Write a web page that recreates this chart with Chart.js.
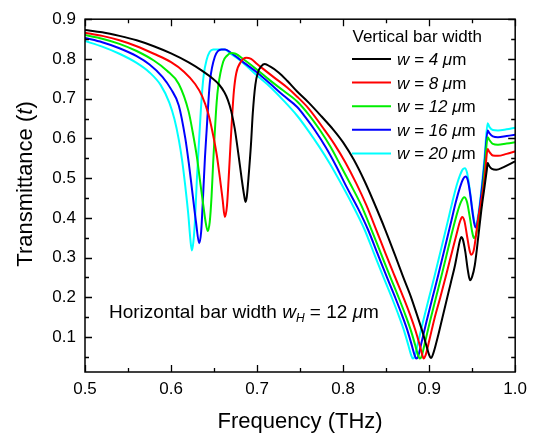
<!DOCTYPE html>
<html>
<head>
<meta charset="utf-8">
<script src="https://cdn.jsdelivr.net/npm/chart.js@4/dist/chart.umd.min.js"></script>
<style>
  html, body { margin: 0; padding: 0; background: #fff; }
  #wrap { width: 534px; height: 437px; }
</style>
</head>
<body>
<div id="wrap"><canvas id="c" width="534" height="437"></canvas></div>
<script>
// Vertical bar widths (µm) and their line colours
const barWidths = [4, 8, 12, 16, 20];
const seriesColors = ['#000000', '#ff0000', '#00ee00', '#0000ff', '#00ffff'];

// Axis ticks
const xTicks = [0.5, 0.6, 0.7, 0.8, 0.9, 1.0];
const xMinorTicks = [0.55, 0.65, 0.75, 0.85, 0.95];
const yTicks = [0.1, 0.2, 0.3, 0.4, 0.5, 0.6, 0.7, 0.8, 0.9];
const yMinorTicks = [0.05, 0.15, 0.25, 0.35, 0.45, 0.55, 0.65, 0.75, 0.85];

// Transmittance spectra: [frequency (THz), transmittance]
const w4 = [
  [0.500,0.873],[0.520,0.867],[0.540,0.858],[0.560,0.847],[0.580,0.832],[0.600,0.814],
  [0.620,0.792],[0.635,0.772],[0.647,0.753],[0.656,0.735],[0.662,0.716],[0.666,0.697],
  [0.670,0.668],[0.674,0.625],[0.678,0.565],[0.682,0.500],[0.685,0.456],[0.6865,0.440],
  [0.688,0.452],[0.690,0.500],[0.693,0.588],[0.695,0.663],[0.698,0.735],[0.701,0.766],
  [0.705,0.782],[0.709,0.787],[0.715,0.781],[0.725,0.766],[0.735,0.745],[0.7466,0.718],
  [0.760,0.690],[0.775,0.655],[0.789,0.621],[0.800,0.590],[0.8125,0.546],[0.825,0.492],
  [0.835,0.443],[0.849,0.370],[0.860,0.308],[0.870,0.250],[0.879,0.200],[0.886,0.155],
  [0.892,0.115],[0.897,0.077],[0.900,0.055],[0.902,0.047],[0.905,0.060],[0.910,0.100],
  [0.915,0.145],[0.920,0.190],[0.925,0.235],[0.930,0.280],[0.934,0.325],[0.936,0.345],
  [0.9375,0.352],[0.939,0.347],[0.942,0.315],[0.945,0.268],[0.9475,0.243],[0.950,0.252],
  [0.953,0.280],[0.957,0.350],[0.9607,0.420],[0.9645,0.480],[0.967,0.520],[0.968,0.538],
  [0.970,0.530],[0.973,0.523],[0.978,0.521],[0.986,0.527],[1.000,0.542]
];
const w8 = [
  [0.500,0.866],[0.520,0.858],[0.540,0.847],[0.560,0.832],[0.580,0.813],[0.600,0.792],
  [0.615,0.768],[0.628,0.737],[0.636,0.707],[0.6433,0.662],[0.648,0.618],[0.653,0.560],
  [0.657,0.497],[0.660,0.445],[0.6625,0.402],[0.665,0.430],[0.667,0.500],[0.669,0.580],
  [0.671,0.655],[0.673,0.718],[0.6758,0.764],[0.6816,0.794],[0.6873,0.803],[0.693,0.800],
  [0.700,0.787],[0.710,0.770],[0.720,0.753],[0.735,0.728],[0.7466,0.705],[0.760,0.675],
  [0.7785,0.621],[0.790,0.585],[0.8025,0.540],[0.815,0.488],[0.827,0.432],[0.8385,0.370],
  [0.849,0.312],[0.860,0.253],[0.870,0.200],[0.878,0.155],[0.884,0.117],[0.889,0.080],
  [0.892,0.055],[0.8935,0.046],[0.896,0.055],[0.900,0.090],[0.906,0.145],[0.913,0.200],
  [0.920,0.258],[0.927,0.318],[0.932,0.360],[0.936,0.392],[0.9384,0.402],[0.941,0.392],
  [0.944,0.355],[0.947,0.318],[0.949,0.307],[0.952,0.320],[0.9568,0.395],[0.9644,0.496],
  [0.968,0.573],[0.970,0.566],[0.974,0.557],[0.980,0.556],[0.990,0.561],[1.000,0.567]
];
const w12 = [
  [0.500,0.860],[0.520,0.851],[0.540,0.838],[0.560,0.820],[0.580,0.796],[0.595,0.771],
  [0.609,0.737],[0.6204,0.668],[0.625,0.618],[0.630,0.554],[0.6345,0.480],[0.6376,0.430],
  [0.640,0.392],[0.6426,0.367],[0.645,0.390],[0.6471,0.454],[0.649,0.540],[0.651,0.621],
  [0.653,0.690],[0.6548,0.730],[0.6606,0.793],[0.665,0.808],[0.670,0.815],[0.675,0.813],
  [0.685,0.798],[0.700,0.773],[0.715,0.746],[0.730,0.721],[0.7466,0.693],[0.760,0.660],
  [0.773,0.621],[0.785,0.580],[0.797,0.532],[0.808,0.487],[0.821,0.432],[0.833,0.370],
  [0.844,0.310],[0.855,0.250],[0.865,0.197],[0.873,0.152],[0.879,0.115],[0.884,0.078],
  [0.887,0.055],[0.889,0.046],[0.891,0.050],[0.895,0.085],[0.901,0.140],[0.908,0.200],
  [0.915,0.260],[0.922,0.322],[0.928,0.375],[0.933,0.415],[0.937,0.440],[0.9407,0.452],
  [0.944,0.440],[0.947,0.405],[0.950,0.365],[0.952,0.349],[0.955,0.362],[0.9607,0.437],
  [0.9645,0.520],[0.968,0.603],[0.970,0.596],[0.974,0.586],[0.980,0.584],[0.990,0.587],
  [1.000,0.590]
];
const w16 = [
  [0.500,0.853],[0.520,0.842],[0.540,0.827],[0.560,0.807],[0.575,0.786],[0.590,0.755],
  [0.600,0.724],[0.609,0.683],[0.6166,0.600],[0.6205,0.540],[0.6242,0.475],[0.629,0.390],
  [0.6327,0.336],[0.635,0.365],[0.6376,0.471],[0.6395,0.555],[0.6414,0.621],[0.6435,0.695],
  [0.6453,0.745],[0.651,0.806],[0.6586,0.824],[0.663,0.824],[0.670,0.815],[0.685,0.790],
  [0.700,0.766],[0.715,0.738],[0.730,0.709],[0.7466,0.679],[0.757,0.651],[0.767,0.621],
  [0.780,0.577],[0.792,0.530],[0.804,0.478],[0.817,0.425],[0.829,0.370],[0.840,0.310],
  [0.851,0.250],[0.861,0.197],[0.869,0.152],[0.875,0.115],[0.880,0.078],[0.883,0.055],
  [0.885,0.046],[0.887,0.050],[0.891,0.085],[0.897,0.140],[0.904,0.200],[0.911,0.260],
  [0.918,0.322],[0.925,0.385],[0.931,0.440],[0.936,0.478],[0.9395,0.498],[0.9423,0.504],
  [0.945,0.494],[0.948,0.455],[0.951,0.405],[0.9537,0.376],[0.9565,0.392],[0.9607,0.462],
  [0.9645,0.540],[0.968,0.620],[0.970,0.613],[0.974,0.605],[0.980,0.603],[0.990,0.606],
  [1.000,0.609]
];
const w20 = [
  [0.500,0.845],[0.520,0.831],[0.540,0.813],[0.560,0.790],[0.575,0.766],[0.588,0.734],
  [0.598,0.690],[0.604,0.648],[0.609,0.597],[0.613,0.543],[0.6166,0.479],[0.620,0.410],
  [0.6225,0.345],[0.6242,0.318],[0.626,0.340],[0.628,0.400],[0.630,0.496],[0.633,0.610],
  [0.6357,0.705],[0.638,0.760],[0.6414,0.798],[0.645,0.818],[0.649,0.824],[0.6624,0.824],
  [0.670,0.812],[0.680,0.797],[0.690,0.778],[0.700,0.758],[0.715,0.730],[0.730,0.697],
  [0.7466,0.657],[0.759,0.621],[0.772,0.580],[0.785,0.535],[0.798,0.485],[0.812,0.428],
  [0.825,0.370],[0.836,0.310],[0.847,0.250],[0.857,0.197],[0.865,0.152],[0.871,0.115],
  [0.876,0.078],[0.879,0.055],[0.881,0.046],[0.883,0.050],[0.887,0.085],[0.893,0.140],
  [0.900,0.200],[0.907,0.260],[0.914,0.322],[0.921,0.385],[0.927,0.440],[0.932,0.482],
  [0.936,0.508],[0.939,0.522],[0.9415,0.525],[0.944,0.514],[0.947,0.475],[0.950,0.425],
  [0.9537,0.382],[0.9565,0.400],[0.9607,0.470],[0.9645,0.555],[0.968,0.638],[0.970,0.629],
  [0.974,0.621],[0.980,0.620],[0.990,0.623],[1.000,0.627]
];
const spectra = [w4, w8, w12, w16, w20];

const FONT = "'Liberation Sans', Arial, Helvetica, sans-serif";
Chart.defaults.font.family = FONT;
Chart.defaults.color = '#000';

// Draws the closed frame, inward major/minor ticks, axis titles, legend and note
const decorations = {
  id: 'decorations',
  afterDraw(chart) {
    const { ctx, chartArea: a, scales: { x, y } } = chart;
    ctx.save();
    ctx.strokeStyle = '#000';
    ctx.lineWidth = 1.5;
    ctx.strokeRect(a.left, a.top, a.right - a.left, a.bottom - a.top);

    const MAJ = 7, MIN = 4;
    ctx.lineWidth = 1.3;
    ctx.beginPath();
    const xt = (v, len) => {
      const px = Math.round(x.getPixelForValue(v)) + 0.5;
      ctx.moveTo(px, a.bottom); ctx.lineTo(px, a.bottom - len);
      ctx.moveTo(px, a.top); ctx.lineTo(px, a.top + len);
    };
    const yt = (v, len) => {
      const py = Math.round(y.getPixelForValue(v)) + 0.5;
      ctx.moveTo(a.left, py); ctx.lineTo(a.left + len, py);
      ctx.moveTo(a.right, py); ctx.lineTo(a.right - len, py);
    };
    xTicks.forEach(v => xt(v, MAJ));
    xMinorTicks.forEach(v => xt(v, MIN));
    yTicks.forEach(v => yt(v, MAJ));
    yMinorTicks.forEach(v => yt(v, MIN));
    ctx.stroke();

    ctx.fillStyle = '#000';
    ctx.textBaseline = 'alphabetic';

    // draws a run of [text, font, dy] pieces starting at (x0, y0)
    const runs = (parts, x0, y0) => {
      let cx = x0;
      parts.forEach(([t, f, dy]) => {
        ctx.font = f;
        ctx.textAlign = 'left';
        ctx.fillText(t, cx, y0 + (dy || 0));
        cx += ctx.measureText(t).width;
      });
      return cx;
    };
    const width = (parts) => parts.reduce((s, [t, f]) => { ctx.font = f; return s + ctx.measureText(t).width; }, 0);

    // x axis title
    ctx.font = `22px ${FONT}`;
    ctx.textAlign = 'center';
    ctx.fillText('Frequency (THz)', (a.left + a.right) / 2, 428);

    // y axis title
    const yTitle = [['Transmittance (', `22px ${FONT}`], ['t', `italic 22px ${FONT}`], [')', `22px ${FONT}`]];
    ctx.save();
    ctx.translate(32, 184);
    ctx.rotate(-Math.PI / 2);
    runs(yTitle, -width(yTitle) / 2, 0);
    ctx.restore();

    // legend
    ctx.font = `17px ${FONT}`;
    ctx.textAlign = 'left';
    ctx.fillText('Vertical bar width', 352.5, 41.5);
    chart.data.datasets.forEach((ds, i) => {
      const ly = 59 + i * 23.6;
      ctx.strokeStyle = ds.borderColor;
      ctx.lineWidth = 2;
      ctx.beginPath();
      ctx.moveTo(352, ly); ctx.lineTo(391, ly);
      ctx.stroke();
      runs([[`w = ${barWidths[i]} `, `italic 17px ${FONT}`], ['\u03bc', `italic 17px ${FONT}`], ['m', `17px ${FONT}`]], 397, ly + 6);
    });

    // annotation
    runs([
      ['Horizontal bar width ', `19px ${FONT}`],
      ['w', `italic 19px ${FONT}`],
      ['H', `italic 12px ${FONT}`, 4],
      [' = 12 ', `19px ${FONT}`],
      ['\u03bc', `italic 19px ${FONT}`],
      ['m', `19px ${FONT}`]
    ], 109, 317.5);

    ctx.restore();
  }
};

new Chart(document.getElementById('c'), {
  type: 'line',
  data: {
    datasets: spectra.map((pts, i) => ({
      label: `w = ${barWidths[i]} \u03bcm`,
      data: pts.map(p => ({ x: p[0], y: p[1] })),
      borderColor: seriesColors[i],
      borderWidth: 2,
      pointRadius: 0,
      fill: false,
      cubicInterpolationMode: 'monotone'
    }))
  },
  options: {
    responsive: false,
    animation: false,
    devicePixelRatio: 1,
    layout: { padding: { left: 0, right: 13, top: 19, bottom: 0 } },
    plugins: { legend: { display: false }, tooltip: { enabled: false } },
    scales: {
      x: {
        type: 'linear', min: 0.5, max: 1.0,
        grid: { display: false, drawTicks: false },
        border: { display: false },
        ticks: { font: { size: 17 }, color: '#000', padding: 7, maxRotation: 0, callback: v => v.toFixed(1) },
        afterBuildTicks: s => { s.ticks = xTicks.map(v => ({ value: v })); },
        afterFit: s => { s.height = 65; }
      },
      y: {
        type: 'linear', min: 0.012, max: 0.9,
        grid: { display: false, drawTicks: false },
        border: { display: false },
        ticks: { font: { size: 17 }, color: '#000', padding: 9, callback: v => v.toFixed(1) },
        afterBuildTicks: s => { s.ticks = yTicks.map(v => ({ value: v })); },
        afterFit: s => { s.width = 85; }
      }
    }
  },
  plugins: [decorations]
});
</script>
</body>
</html>
